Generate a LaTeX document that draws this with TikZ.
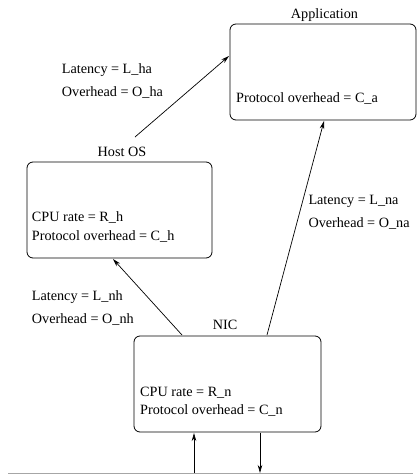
\documentclass[tikz,border=0pt]{standalone}
\usepackage{fontspec}
\setmainfont{Liberation Serif}
\usetikzlibrary{arrows.meta}
\begin{document}
\begin{tikzpicture}[x=1pt,y=-1pt,
  box/.style={draw,line width=0.8pt,rounded corners=6pt,inner sep=0pt},
  lbl/.style={anchor=base west,inner sep=0pt,font=\fontsize{14.2}{17}\selectfont},
  ttl/.style={anchor=base,inner sep=0pt,font=\fontsize{14.2}{17}\selectfont},
  conn/.style={line width=0.7pt,-{Stealth[length=8pt,width=4.5pt,inset=2.5pt]}}]
\useasboundingbox (0,0) rectangle (417,474);
% boxes
\path[box] (230,24) rectangle (416,120);
\node[inner sep=0pt,minimum width=186pt,minimum height=96pt] (app) at (323,72) {};
\path[box] (27,162) rectangle (212,258);
\node[inner sep=0pt,minimum width=185pt,minimum height=96pt] (host) at (119.5,210) {};
\path[box] (134,336) rectangle (321,432);
\node[inner sep=0pt,minimum width=187pt,minimum height=96pt] (nic) at (227.5,384) {};
% titles
\node[ttl] (apptitle) at (324.5,18.5) {Application};
\node[ttl] (hosttitle) at (122,156.5) {Host OS};
\node[ttl] (nictitle) at (225,329.5) {NIC};
% box texts
\node[lbl] (ca) at (236,102) {Protocol overhead = C\_a};
\node[lbl] (rh) at (31.7,221.5) {CPU rate = R\_h};
\node[lbl] (ch) at (31.7,240.5) {Protocol overhead = C\_h};
\node[lbl] (rn) at (140,396.5) {CPU rate = R\_n};
\node[lbl] (cn) at (140,414.5) {Protocol overhead = C\_n};
% connector labels
\node[lbl] (lha) at (61.7,73.5) {Latency = L\_ha};
\node[lbl] (oha) at (61.7,96.5) {Overhead = O\_ha};
\node[lbl] (lna) at (308.3,204.5) {Latency = L\_na};
\node[lbl] (ona) at (308.3,227.5) {Overhead = O\_na};
\node[lbl] (lnh) at (31.7,300) {Latency = L\_nh};
\node[lbl] (onh) at (31.7,323) {Overhead = O\_nh};
% connector end points
\coordinate (hs) at (135,137);
\coordinate (ae) at (229,56);
\coordinate (ns1) at (182,335);
\coordinate (he) at (113,259);
\coordinate (ns2) at (267,335);
\coordinate (ae2) at (324,121);
\coordinate (upin) at (194,473);
\coordinate (upend) at (194,433);
\coordinate (dnst) at (260,432.5);
\coordinate (dnend) at (260,473);
\coordinate (baseL) at (8,473);
\coordinate (baseR) at (413,473);
% connectors
\draw[conn] (hs) -- (ae);
\draw[conn] (ns1) -- (he);
\draw[conn] (ns2) -- (ae2);
\draw[conn] (upin) -- (upend);
\draw[conn] (dnst) -- (dnend);
\draw[gray!70,line width=1pt] (baseL) -- (baseR);
\end{tikzpicture}
\end{document}
